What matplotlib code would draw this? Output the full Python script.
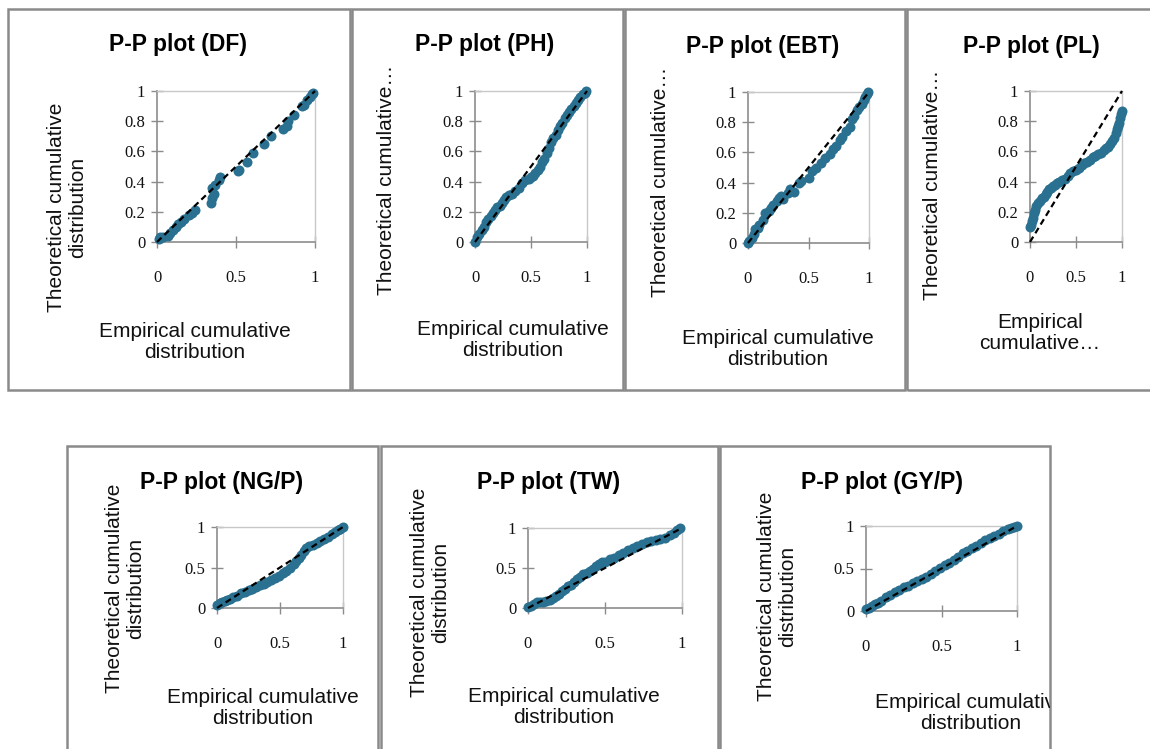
import matplotlib
matplotlib.use("Agg")
import matplotlib.pyplot as plt
from matplotlib.patches import Rectangle

W, H = 1150, 749

# ---------------- data ----------------
df_x = [0.01,0.02,0.04,0.07,0.08,0.10,0.12,0.13,0.15,0.17,0.20,0.22,0.24,0.34,0.35,0.36,0.35,0.37,0.39,0.40,0.51,0.52,0.57,0.61,0.68,0.72,0.80,0.82,0.83,0.87,0.92,0.93,0.95,0.97,0.98,0.99]
df_y = [0.02,0.03,0.03,0.04,0.06,0.08,0.10,0.12,0.13,0.15,0.18,0.19,0.21,0.26,0.29,0.32,0.36,0.38,0.41,0.43,0.47,0.48,0.53,0.59,0.65,0.70,0.75,0.77,0.80,0.84,0.90,0.91,0.94,0.96,0.98,0.99]

ph_x = [0.00,0.02,0.04,0.06,0.08,0.10,0.12,0.14,0.16,0.18,0.20,0.22,0.24,0.26,0.28,0.30,0.33,0.36,0.39,0.42,0.45,0.48,0.50,0.52,0.54,0.56,0.58,0.60,0.62,0.64,0.66,0.68,0.70,0.72,0.74,0.76,0.78,0.80,0.82,0.84,0.86,0.88,0.90,0.92,0.94,0.96,0.98,0.99]
ph_y = [0.00,0.03,0.05,0.08,0.10,0.13,0.15,0.17,0.19,0.21,0.23,0.24,0.26,0.28,0.30,0.31,0.32,0.34,0.36,0.39,0.41,0.42,0.43,0.44,0.46,0.48,0.50,0.53,0.55,0.59,0.62,0.66,0.69,0.71,0.74,0.77,0.79,0.82,0.84,0.86,0.88,0.90,0.92,0.94,0.96,0.98,0.99,1.00]

ebt_x = [0.00,0.01,0.03,0.05,0.06,0.08,0.09,0.12,0.14,0.17,0.19,0.21,0.24,0.26,0.27,0.29,0.33,0.35,0.38,0.42,0.44,0.50,0.53,0.56,0.60,0.64,0.68,0.70,0.73,0.76,0.78,0.81,0.84,0.86,0.88,0.90,0.92,0.94,0.96,0.97,0.98,0.99]
ebt_y = [0.00,0.01,0.03,0.06,0.09,0.10,0.12,0.15,0.20,0.21,0.23,0.25,0.28,0.30,0.31,0.29,0.33,0.36,0.34,0.40,0.41,0.43,0.48,0.50,0.53,0.56,0.59,0.62,0.64,0.68,0.70,0.74,0.77,0.82,0.84,0.88,0.90,0.92,0.95,0.97,0.99,1.00]

pl_x = [0.00,0.01,0.02,0.03,0.04,0.05,0.07,0.09,0.11,0.13,0.15,0.17,0.19,0.21,0.23,0.25,0.27,0.29,0.32,0.35,0.38,0.41,0.44,0.47,0.50,0.53,0.56,0.59,0.62,0.65,0.68,0.71,0.74,0.77,0.80,0.83,0.85,0.87,0.89,0.91,0.93,0.95,0.96,0.97,0.98,0.99,1.00]
pl_y = [0.10,0.11,0.14,0.16,0.19,0.21,0.24,0.26,0.27,0.29,0.30,0.32,0.33,0.35,0.36,0.37,0.38,0.39,0.40,0.41,0.42,0.44,0.46,0.47,0.48,0.49,0.51,0.52,0.53,0.54,0.56,0.57,0.58,0.59,0.61,0.62,0.63,0.65,0.67,0.69,0.72,0.75,0.77,0.79,0.82,0.85,0.87]

ng_x = [0.00,0.02,0.04,0.06,0.08,0.10,0.13,0.16,0.19,0.22,0.25,0.28,0.31,0.34,0.37,0.40,0.43,0.46,0.49,0.52,0.55,0.58,0.61,0.63,0.65,0.67,0.69,0.71,0.73,0.76,0.79,0.82,0.85,0.88,0.91,0.94,0.96,0.98,1.00]
ng_y = [0.04,0.06,0.08,0.09,0.10,0.11,0.13,0.15,0.18,0.20,0.22,0.24,0.26,0.28,0.30,0.32,0.34,0.37,0.40,0.43,0.46,0.50,0.54,0.58,0.62,0.66,0.70,0.74,0.76,0.78,0.80,0.83,0.85,0.88,0.91,0.94,0.96,0.98,1.00]

tw_x = [0.00,0.02,0.04,0.06,0.08,0.10,0.12,0.14,0.16,0.18,0.20,0.22,0.24,0.26,0.28,0.30,0.32,0.34,0.36,0.38,0.40,0.42,0.44,0.46,0.48,0.50,0.53,0.56,0.59,0.62,0.65,0.68,0.71,0.74,0.77,0.80,0.83,0.86,0.89,0.92,0.95,0.97,0.99]
tw_y = [0.01,0.03,0.05,0.07,0.08,0.08,0.09,0.10,0.12,0.15,0.18,0.21,0.24,0.27,0.29,0.32,0.36,0.39,0.42,0.44,0.46,0.49,0.52,0.55,0.57,0.58,0.61,0.63,0.66,0.69,0.72,0.75,0.78,0.80,0.82,0.84,0.85,0.86,0.88,0.91,0.94,0.97,1.00]

gy_x = [0.00,0.02,0.04,0.06,0.08,0.10,0.13,0.16,0.19,0.22,0.25,0.28,0.31,0.34,0.37,0.40,0.43,0.46,0.49,0.52,0.55,0.58,0.61,0.64,0.67,0.70,0.73,0.76,0.79,0.82,0.85,0.88,0.91,0.94,0.96,0.98,1.00]
gy_y = [0.02,0.04,0.06,0.08,0.10,0.12,0.16,0.19,0.22,0.25,0.28,0.30,0.33,0.35,0.38,0.40,0.44,0.47,0.51,0.54,0.57,0.60,0.64,0.68,0.71,0.74,0.77,0.80,0.83,0.86,0.88,0.91,0.94,0.97,0.98,0.99,1.00]

titles = ["P-P plot (DF)", "P-P plot (PH)", "P-P plot (EBT)", "P-P plot (PL)",
          "P-P plot (NG/P)", "P-P plot (TW)", "P-P plot (GY/P)"]
ylabels = ["Theoretical cumulative\ndistribution", "Theoretical cumulative…",
           "Theoretical cumulative…", "Theoretical cumulative…",
           "Theoretical cumulative\ndistribution", "Theoretical cumulative\ndistribution",
           "Theoretical cumulative\ndistribution"]
xlabels = ["Empirical cumulative\ndistribution", "Empirical cumulative\ndistribution",
           "Empirical cumulative\ndistribution", "Empirical\ncumulative…",
           "Empirical cumulative\ndistribution", "Empirical cumulative\ndistribution",
           "Empirical cumulative\ndistribution"]
yticks_top = [0, 0.2, 0.4, 0.6, 0.8, 1]
yticklabels_top = ["0", "0.2", "0.4", "0.6", "0.8", "1"]
yticks_bot = [0, 0.5, 1]
yticklabels_bot = ["0", "0.5", "1"]
xticks = [0, 0.5, 1]
xticklabels = ["0", "0.5", "1"]

series = [(df_x, df_y), (ph_x, ph_y), (ebt_x, ebt_y), (pl_x, pl_y),
          (ng_x, ng_y), (tw_x, tw_y), (gy_x, gy_y)]

# ---------------- layout (pixels) ----------------
boxes = [(8, 9, 350, 390), (352, 9, 623, 390), (625, 9, 905, 390), (907, 9, 1160, 390),
         (67, 446, 378, 760), (381, 446, 718, 760), (720, 446, 1050, 760)]
plot_areas = [(157, 315, 91, 242), (475, 587, 91, 242), (748, 869, 92, 243), (1030, 1122, 91, 242),
              (217, 343, 527, 608), (528, 682, 528, 608), (866, 1017, 526, 611)]
title_pos = [(178, 45), (485, 45), (763, 47), (1031, 47), (222, 483), (549, 483), (882, 483)]
ylab_pos = [(67, 207), (387, 180), (660, 182), (933, 185), (125, 588), (430, 592), (777, 596)]
xlab_pos = [(195, 342), (513, 340), (778, 349), (1040, 333), (263, 708), (564, 707), (971, 713)]

POINT = "#2a7090"
SANS = "Liberation Sans"
SERIF = "Liberation Serif"

fig = plt.figure(figsize=(W / 100, H / 100), dpi=100)
fig.patch.set_facecolor("white")


def fx(px):
    return px / W


def fy(py):
    return 1 - py / H


rects = []
for (x0, y0, x1, y1) in boxes:
    r = Rectangle((fx(x0), fy(y1)), fx(x1) - fx(x0), fy(y0) - fy(y1),
                  transform=fig.transFigure, fill=False, edgecolor="#8a8a8a",
                  linewidth=1.8, zorder=0)
    fig.add_artist(r)
    rects.append(r)

for i, ((xs, ys), (ax0, ax1, ay0, ay1)) in enumerate(zip(series, plot_areas)):
    ax = fig.add_axes([fx(ax0), fy(ay1), fx(ax1) - fx(ax0), fy(ay0) - fy(ay1)])
    ax.set_xlim(0, 1)
    ax.set_ylim(0, 1)
    ax.plot(xs, ys, "o", color=POINT, markersize=7.2, markeredgewidth=0,
            clip_on=False, zorder=3)
    ax.plot([0, 1], [0, 1], color="black", linestyle=(0, (2.8, 1.8)), linewidth=1.6,
            clip_on=False, zorder=4)
    for s in ["left", "bottom"]:
        ax.spines[s].set_color("#8c8c8c")
        ax.spines[s].set_linewidth(1.2)
    for s in ["top", "right"]:
        ax.spines[s].set_color("#c8c8c8")
        ax.spines[s].set_linewidth(1.0)
    if i < 4:
        ax.set_yticks(yticks_top)
        ax.set_yticklabels(yticklabels_top)
    else:
        ax.set_yticks(yticks_bot)
        ax.set_yticklabels(yticklabels_bot)
    ax.set_xticks(xticks)
    ax.set_xticklabels(xticklabels)
    ax.tick_params(axis="y", direction="inout", length=9, width=1.0, color="#8c8c8c",
                   pad=4, labelsize=12)
    ax.tick_params(axis="x", direction="inout", length=8, width=1.0, color="#8c8c8c",
                   pad=16, labelsize=12)
    for lab in ax.get_xticklabels() + ax.get_yticklabels():
        lab.set_family(SERIF)
        lab.set_color("#111111")

    tx, ty = title_pos[i]
    fig.text(fx(tx), fy(ty), titles[i], ha="center", va="center", fontsize=16.5,
             fontweight="bold", family=SANS, color="black")
    lx, ly = ylab_pos[i]
    fig.text(fx(lx), fy(ly), ylabels[i], ha="center", va="center", rotation=90,
             fontsize=15, family=SANS, color="#111111", linespacing=1.1,
             multialignment="center")
    xx, xy = xlab_pos[i]
    t = fig.text(fx(xx), fy(xy), xlabels[i], ha="center", va="center",
                 fontsize=15, family=SANS, color="#111111", linespacing=1.1,
                 multialignment="center")
    t.set_clip_path(rects[i])

fig.savefig("out.png", dpi=100, facecolor="white")
